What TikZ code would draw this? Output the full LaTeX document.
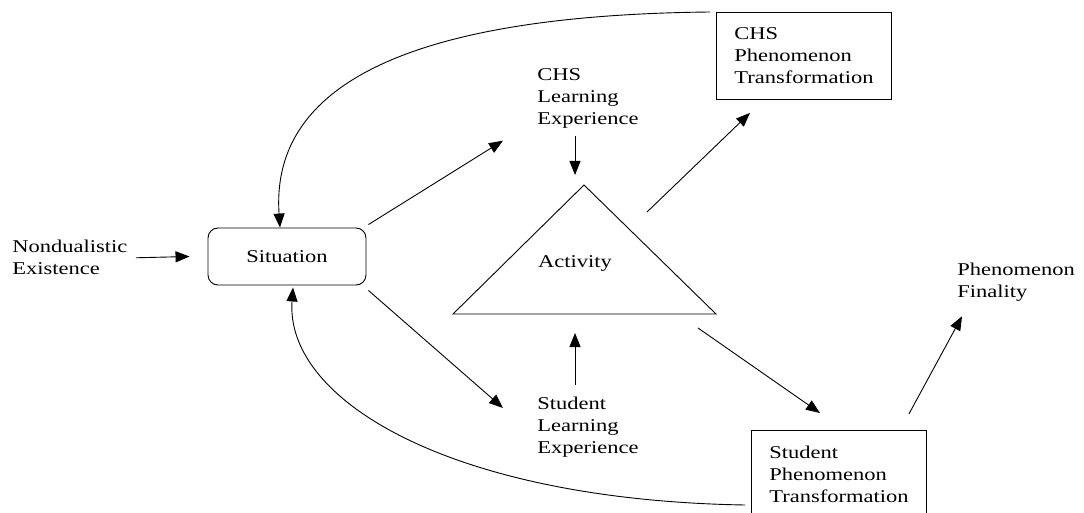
\documentclass[tikz,border=0pt]{standalone}
\usepackage{fontspec}
\setmainfont{Liberation Serif}[FakeStretch=1.25]
\usetikzlibrary{arrows.meta,calc}

\begin{document}
\begin{tikzpicture}[x=1pt,y=-1pt,line width=0.9pt,
  txt/.style={align=left,inner sep=0pt,anchor=north west,font=\fontsize{18}{22}\selectfont},
  sitbox/.style={draw,rounded corners=10pt,minimum width=158pt,minimum height=57pt,
    font=\fontsize{18}{22}\selectfont},
  ptbox/.style={draw,align=left,anchor=north west,minimum width=175pt,minimum height=87pt,
    font=\fontsize{18}{22}\selectfont},
  arr/.style={-{Triangle[length=14pt,width=11pt]}}]

  \clip (0,0) rectangle (1084,513);

  \node[txt] (nond) at (12,240) {Nondualistic\\Existence};
  \node[sitbox] (sit) at (287,256.5) {Situation};
  \node[txt] (chsle) at (537,68) {CHS\\Learning\\Experience};
  \node[txt] (stle) at (537,397) {Student\\Learning\\Experience};
  \node[ptbox] (cht) at (716,12) {CHS\\Phenomenon\\Transformation};
  \node[ptbox] (spt) at (751,430) {Student\\Phenomenon\\Transformation};
  \node[txt] (fin) at (957,263) {Phenomenon\\Finality};

  % the activity triangle
  \coordinate (apex) at (584,185);
  \coordinate (bl) at (453,314);
  \coordinate (br) at (716,314);
  \draw (apex) -- (bl) -- (br) -- cycle;
  \node[txt,anchor=base] (act) at (575,267) {Activity};

  % straight arrows
  \draw[arr] ([xshift=8pt]nond.east) -- ([xshift=-18pt]sit.west);
  \draw[arr] ([shift={(2,-3)}]sit.north east) -- ([shift={(-34,12)}]chsle.south west);
  \draw[arr] ([shift={(2,5)}]sit.south east) -- ([shift={(-34,11)}]stle.north west);
  \draw[arr] ($(apex|-chsle.south)+(-9,7)$) -- ($(apex)+(-9,-10)$);
  \draw[arr] ($(apex|-stle.north)+(-9,-12)$) -- ($(apex|-bl)+(-9,19)$);
  \draw[arr] ($(apex)+(63,27)$) -- ([shift={(34,13)}]cht.south west);
  \draw[arr] ($(br)+(-18,14)$) -- ([shift={(69,-17)}]spt.north west);
  \draw[arr] ([shift={(-18,-16)}]spt.north east) -- ([shift={(5,14)}]fin.south west);

  % feedback curves back to the situation
  \draw[arr] ([xshift=-6pt]cht.north west) .. controls (420,15) and (270,80) .. ([xshift=-7pt]sit.north);
  \draw[arr] ([shift={(-6,75)}]spt.north west) .. controls (450,500) and (285,400) .. ([shift={(6,2)}]sit.south);

\end{tikzpicture}
\end{document}
